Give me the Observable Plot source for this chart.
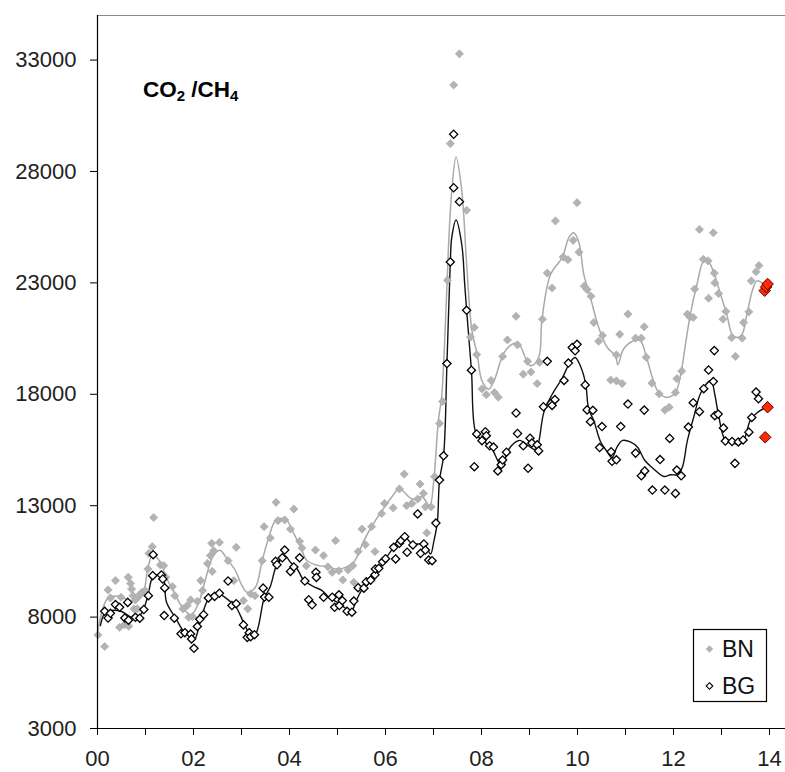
<!DOCTYPE html>
<html>
<head>
<meta charset="utf-8">
<script src="https://cdn.jsdelivr.net/npm/d3@7"></script>
<script src="https://cdn.jsdelivr.net/npm/@observablehq/plot@0.6"></script>
<style>
  html, body { margin: 0; padding: 0; background: #fff; }
  #chart svg { display: block; }
</style>
</head>
<body>
<div id="chart"></div>
<script>
// x = years since 2000, y = CO2/CH4 ratio
const xTicks = [0,1,2,3,4,5,6,7,8,9,10,11,12,13,14];
const yTicks = [3000, 8000, 13000, 18000, 23000, 28000, 33000];
const seriesNames = ["BN", "BG"];

const bnPoints = [[0.01,7200],[0.15,6680],[0.22,9220],[0.27,8860],[0.375,9640],[0.46,7540],[0.49,8890],[0.56,7660],[0.64,9790],[0.65,7590],[0.69,9510],[0.71,9260],[0.74,8960],[0.76,8370],[0.79,8770],[0.83,8370],[0.86,8960],[0.90,9040],[0.93,9110],[0.99,9190],[1.05,10160],[1.07,10860],[1.14,11160],[1.17,12470],[1.31,10340],[1.38,10310],[1.42,9790],[1.56,9370],[1.61,8960],[1.78,8370],[1.87,8520],[1.90,7990],[1.94,8770],[1.98,8020],[2.08,8710],[2.15,9640],[2.19,9190],[2.29,10410],[2.35,10760],[2.38,11310],[2.39,10050],[2.42,10980],[2.54,11350],[2.72,10530],[2.84,9640],[2.89,11130],[3.04,8740],[3.13,8370],[3.19,9040],[3.28,8960],[3.43,10530],[3.47,12060],[3.60,11550],[3.72,13150],[3.76,12330],[3.90,12360],[4.02,11950],[4.09,12850],[4.21,11400],[4.26,11100],[4.35,10300],[4.54,11010],[4.71,10760],[4.80,10260],[4.89,10010],[4.96,11430],[5.03,10080],[5.11,9670],[5.22,10120],[5.32,10310],[5.34,9560],[5.43,10940],[5.51,11950],[5.58,11250],[5.71,12060],[5.78,10940],[5.92,12650],[5.98,13100],[6.16,12900],[6.29,13750],[6.39,14420],[6.44,13000],[6.55,13100],[6.67,13300],[6.72,13970],[6.79,13550],[6.83,12950],[6.86,11780],[6.95,12950],[7.02,14300],[7.125,16690],[7.19,17680],[7.29,23120],[7.35,29250],[7.42,31880],[7.54,33280],[7.69,26260],[7.77,20570],[7.85,21000],[7.90,19780],[8.01,18240],[8.10,17980],[8.20,18620],[8.27,18080],[8.35,17870],[8.44,19700],[8.54,20440],[8.72,21500],[8.75,20220],[8.87,18900],[8.96,19480],[9.03,19000],[9.16,18480],[9.21,19430],[9.27,21370],[9.37,23440],[9.47,22770],[9.54,25780],[9.70,24160],[9.80,24040],[9.91,24910],[9.99,26600],[10.03,24380],[10.14,22850],[10.20,22700],[10.28,22400],[10.34,21220],[10.44,20380],[10.52,20640],[10.69,18640],[10.81,18600],[10.81,19770],[10.88,20690],[10.93,18480],[11.05,21600],[11.21,20520],[11.33,20520],[11.39,21030],[11.43,19660],[11.55,18500],[11.70,18020],[11.82,17290],[11.91,17420],[12.04,18080],[12.07,18700],[12.17,19040],[12.29,21600],[12.34,21470],[12.41,21450],[12.44,22720],[12.54,25400],[12.62,24060],[12.72,23990],[12.73,22310],[12.83,25250],[12.85,23440],[12.86,23000],[12.94,22520],[13.03,21370],[13.09,21720],[13.21,20540],[13.29,19700],[13.43,20520],[13.46,21220],[13.57,21700],[13.62,23090],[13.72,23500],[13.78,23780]];

const bgPoints = [[0.15,8260],[0.22,7960],[0.27,8170],[0.375,8560],[0.46,8440],[0.57,7960],[0.63,8660],[0.645,7860],[0.79,7990],[0.88,7950],[0.965,8340],[1.06,8960],[1.15,9860],[1.16,10800],[1.33,9890],[1.36,9710],[1.40,9310],[1.39,8070],[1.60,7950],[1.74,7250],[1.82,7300],[1.94,7240],[1.96,7020],[2.01,6600],[2.08,7580],[2.13,7900],[2.21,8110],[2.31,8860],[2.44,8930],[2.54,9070],[2.72,9620],[2.80,8520],[2.89,8600],[3.04,7650],[3.12,7090],[3.16,7300],[3.19,7120],[3.27,7210],[3.45,9300],[3.48,8900],[3.57,8890],[3.71,10500],[3.74,10350],[3.85,10660],[3.90,11010],[4.02,10050],[4.09,10250],[4.21,10660],[4.32,9620],[4.40,8780],[4.47,8550],[4.55,10010],[4.56,9780],[4.71,8890],[4.89,8890],[4.94,8440],[5.03,9000],[5.04,8520],[5.10,8740],[5.20,8260],[5.30,8220],[5.34,8720],[5.43,9320],[5.55,9300],[5.60,9580],[5.69,9660],[5.78,9900],[5.79,10160],[5.86,10190],[5.94,10480],[6.00,10620],[6.17,11130],[6.21,10610],[6.29,11310],[6.32,11430],[6.40,11610],[6.45,10910],[6.57,11240],[6.67,12630],[6.73,10860],[6.80,11280],[6.83,11010],[6.90,10560],[6.97,10530],[7.05,12220],[7.125,14150],[7.21,15240],[7.28,19380],[7.35,23940],[7.42,27270],[7.42,29670],[7.54,26640],[7.69,21770],[7.79,19080],[7.85,14750],[7.90,16220],[8.01,15920],[8.08,16320],[8.10,16140],[8.17,15690],[8.25,15630],[8.34,14560],[8.41,14840],[8.44,15050],[8.52,15400],[8.72,17160],[8.75,16240],[8.87,15690],[8.97,14680],[9.01,16030],[9.05,15810],[9.16,15730],[9.19,15460],[9.29,17440],[9.37,19480],[9.45,17600],[9.47,17500],[9.53,17760],[9.72,18620],[9.81,19400],[9.89,20100],[9.95,19950],[9.99,20240],[10.16,18420],[10.20,17300],[10.32,17280],[10.27,16770],[10.46,15610],[10.51,16550],[10.70,15420],[10.72,14990],[10.81,15060],[10.90,16550],[11.05,17560],[11.21,15360],[11.33,14340],[11.39,17290],[11.40,14560],[11.56,13700],[11.72,15070],[11.82,13700],[11.92,16020],[12.04,13550],[12.07,14600],[12.16,14340],[12.31,16530],[12.41,17620],[12.54,17220],[12.63,18250],[12.73,19090],[12.83,18570],[12.85,19960],[12.86,17040],[12.93,17110],[13.04,16490],[13.08,15900],[13.22,15880],[13.28,14900],[13.35,15860],[13.45,15950],[13.57,16300],[13.63,16960],[13.72,18100],[13.77,17800]];

const bnRedPoints = [[13.90,22650],[13.93,22820],[13.96,22950]];
const bgRedPoints = [[13.96,17420],[13.91,16070]];

const bnSmooth = [[0.0,7300],[0.2,8800],[0.4,8950],[0.6,8800],[0.8,8700],[0.95,9050],[1.05,10200],[1.15,10800],[1.30,10500],[1.45,9700],[1.60,9100],[1.75,8500],[1.95,8100],[2.10,8600],[2.25,9700],[2.40,10700],[2.55,11000],[2.70,10600],[2.875,10080],[3.01,9410],[3.12,9110],[3.29,9340],[3.43,10530],[3.57,11580],[3.71,12330],[3.92,12400],[4.06,11880],[4.23,11130],[4.37,10530],[4.61,10310],[4.82,10260],[4.96,10160],[5.17,10230],[5.34,10460],[5.55,11430],[5.72,12100],[5.93,12780],[6.1,13300],[6.29,13750],[6.55,13300],[6.76,13400],[6.92,13000],[7.0,14000],[7.1,16800],[7.17,17900],[7.25,21300],[7.31,24500],[7.38,27120],[7.47,28650],[7.59,27120],[7.69,23840],[7.80,20850],[7.91,19800],[8.01,18600],[8.15,18230],[8.26,18600],[8.47,19870],[8.64,20250],[8.76,20310],[9.02,19280],[9.19,19650],[9.26,21370],[9.44,23390],[9.68,24130],[9.82,25030],[9.92,25250],[10.03,24810],[10.13,23390],[10.27,22340],[10.44,21000],[10.62,20100],[10.79,19730],[10.84,19320],[10.96,20030],[11.17,20400],[11.31,20400],[11.42,19800],[11.56,18750],[11.69,18080],[11.87,17860],[12.04,18080],[12.15,18900],[12.25,20250],[12.35,21590],[12.49,22940],[12.63,23980],[12.74,23910],[12.85,23390],[12.98,22490],[13.11,21590],[13.22,20700],[13.33,20550],[13.43,20700],[13.53,21590],[13.64,22640],[13.74,23090],[13.92,22870]];

const bgSmooth = [[0.06,7620],[0.15,8160],[0.3,8300],[0.5,8250],[0.7,8000],[0.85,8000],[0.95,8300],[1.05,8960],[1.17,9860],[1.35,9860],[1.44,8650],[1.63,7950],[1.80,7350],[1.94,7170],[2.02,6990],[2.15,7870],[2.29,8740],[2.42,9040],[2.54,9040],[2.74,8740],[2.88,8470],[3.06,7680],[3.20,7170],[3.30,7270],[3.47,8820],[3.60,9370],[3.74,10380],[3.90,10760],[4.02,10460],[4.16,10160],[4.30,9640],[4.50,9370],[4.68,9190],[4.82,8890],[5.00,8660],[5.14,8440],[5.29,8290],[5.39,8740],[5.50,9190],[5.64,9490],[5.78,9860],[5.93,10380],[6.17,11130],[6.31,11460],[6.42,11580],[6.52,11350],[6.66,11280],[6.80,11280],[6.87,11050],[6.94,10830],[7.01,11430],[7.08,12250],[7.125,14150],[7.21,15240],[7.28,19380],[7.35,23940],[7.38,25030],[7.47,25820],[7.59,24700],[7.65,22940],[7.69,21770],[7.79,19080],[7.89,16210],[8.05,15880],[8.2,15610],[8.36,14950],[8.45,14750],[8.53,15380],[8.67,15790],[8.8,15930],[8.97,15700],[9.1,15520],[9.16,15610],[9.3,17200],[9.47,17990],[9.68,18720],[9.84,19410],[9.95,19650],[10.06,19270],[10.17,18470],[10.23,17370],[10.34,16810],[10.48,15870],[10.61,15450],[10.72,15160],[10.82,15620],[10.94,15930],[11.1,15860],[11.25,15620],[11.4,15040],[11.56,14700],[11.8,14310],[11.94,14390],[12.08,14390],[12.18,14700],[12.29,15930],[12.43,17040],[12.57,18070],[12.78,18620],[12.86,17990],[12.94,17040],[13.08,15930],[13.22,15830],[13.36,15750],[13.46,15910],[13.6,16830],[13.74,17170],[13.95,17440]];

const FONT = "'Liberation Sans', Arial, Helvetica, sans-serif";
const GRAY = "#b3b3b3";

const chart = Plot.plot({
  width: 785,
  height: 772,
  marginLeft: 97,
  marginRight: 0,
  marginTop: 15,
  marginBottom: 44,
  style: { fontFamily: FONT, background: "#fff", color: "#222" },
  x: { domain: [0, 14.333] },
  y: { domain: [3000, 35000] },
  marks: [
    Plot.ruleY([35000], { stroke: "#8a8a8a", strokeWidth: 1 }),
    Plot.axisX(xTicks, {
      tickSize: 7, tickPadding: 15, fontSize: 22, label: null, stroke: "#000",
      tickFormat: d => d % 2 === 0 ? String(d).padStart(2, "0") : ""
    }),
    Plot.axisY(yTicks, {
      tickSize: 7, tickPadding: 14, fontSize: 22, label: null, stroke: "#000",
      tickFormat: d => String(d)
    }),
    Plot.line(bnSmooth, { x: d => d[0], y: d => d[1], stroke: "#a9a9a9", strokeWidth: 1.5, curve: "catmull-rom" }),
    Plot.line(bgSmooth, { x: d => d[0], y: d => d[1], stroke: "#111", strokeWidth: 1.4, curve: "catmull-rom" }),
    Plot.dot(bnPoints, { x: d => d[0], y: d => d[1], symbol: "diamond2", r: 3.7, fill: GRAY, stroke: "#a8a8a8", strokeWidth: 0.6 }),
    Plot.dot(bgPoints, { x: d => d[0], y: d => d[1], symbol: "diamond2", r: 3.7, fill: "#fff", stroke: "#000", strokeWidth: 1.3 }),
    Plot.dot(bnRedPoints, { x: d => d[0], y: d => d[1], symbol: "diamond2", r: 5.2, fill: "#ff2a00", stroke: "#5a0000", strokeWidth: 1 }),
    Plot.dot(bgRedPoints, { x: d => d[0], y: d => d[1], symbol: "diamond2", r: 5.2, fill: "#ff2a00", stroke: "#5a0000", strokeWidth: 1 }),
    Plot.ruleX([0], { stroke: "#000", strokeWidth: 1.2 }),
    Plot.ruleY([3000], { stroke: "#000", strokeWidth: 1.2 })
  ]
});

document.getElementById("chart").appendChild(chart);

// Title with subscripts
const svg = d3.select(chart);
const title = svg.append("text")
  .attr("x", 143).attr("y", 97).attr("text-anchor", "start")
  .attr("font-family", FONT).attr("font-weight", "bold").attr("font-size", 22.5).attr("fill", "#000");
title.append("tspan").text("CO");
title.append("tspan").attr("font-size", 15).attr("dy", 4).text("2");
title.append("tspan").attr("dy", -4).text(" /CH");
title.append("tspan").attr("font-size", 15).attr("dy", 4).text("4");

// Legend box
const lg = svg.append("g").attr("font-family", FONT).attr("font-size", 23).attr("fill", "#111").attr("text-anchor", "start");
lg.append("rect").attr("x", 693.5).attr("y", 629.5).attr("width", 73).attr("height", 72)
  .attr("fill", "#fff").attr("stroke", "#000").attr("stroke-width", 1.2);
const sym = d3.symbol(d3.symbolDiamond2, Math.PI * 3 * 3);
lg.append("path").attr("d", sym()).attr("transform", "translate(709.5,649)")
  .attr("fill", GRAY).attr("stroke", "#a8a8a8").attr("stroke-width", 0.6);
lg.append("path").attr("d", sym()).attr("transform", "translate(709.5,686)")
  .attr("fill", "#fff").attr("stroke", "#000").attr("stroke-width", 1.1);
lg.append("text").attr("x", 722).attr("y", 657).attr("text-anchor", "start").text(seriesNames[0]);
lg.append("text").attr("x", 722).attr("y", 694).attr("text-anchor", "start").text(seriesNames[1]);
</script>
</body>
</html>
